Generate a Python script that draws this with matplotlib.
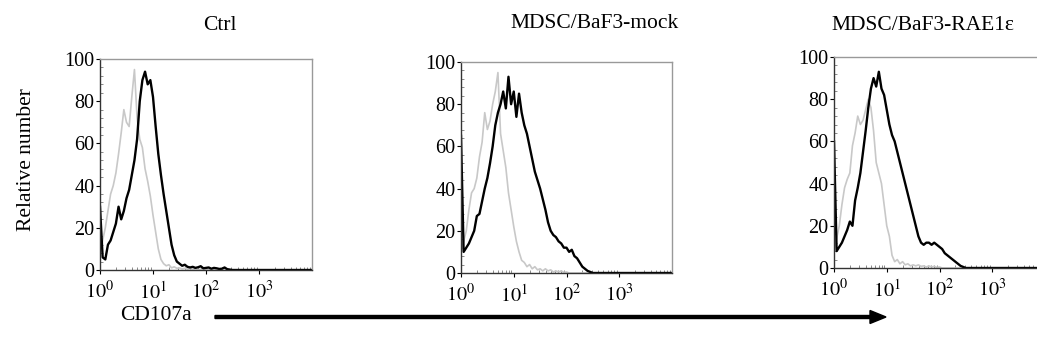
import matplotlib
matplotlib.use("Agg")
import matplotlib.pyplot as plt
from matplotlib.ticker import FixedLocator, MultipleLocator

plt.rcParams["font.family"] = ["Liberation Serif", "DejaVu Serif"]
plt.rcParams["mathtext.fontset"] = "stix"

# fluorescence channel exponents (log10 of CD107a intensity)
log_bins = [0.00, 0.05, 0.10, 0.15, 0.20, 0.25, 0.30, 0.35, 0.40, 0.45,
            0.50, 0.55, 0.60, 0.65, 0.70, 0.75, 0.80, 0.85, 0.90, 0.95,
            1.00, 1.05, 1.10, 1.15, 1.20, 1.25, 1.30, 1.35, 1.40, 1.45,
            1.50, 1.55, 1.60, 1.65, 1.70, 1.75, 1.80, 1.85, 1.90, 1.95,
            2.00, 2.05, 2.10, 2.15, 2.20, 2.25, 2.30, 2.35, 2.40, 2.45,
            2.50, 2.55, 2.60, 4.00]

titles = ["Ctrl", "MDSC/BaF3-mock", "MDSC/BaF3-RAE1\u03b5"]

ctrl_stain = [30, 6, 5, 12, 14, 18, 22, 30, 24, 28,
              34, 38, 45, 52, 62, 80, 90, 94, 88, 90,
              82, 68, 55, 45, 36, 28, 20, 12, 7, 4,
              3, 2, 2.5, 1.5, 1.2, 1.5, 1, 1.3, 1.8, 0.8,
              1, 1.2, 0.6, 1, 0.8, 0.5, 0.6, 1.2, 0.4, 0.2,
              0, 0, 0, 0]
ctrl_isotype = [8, 14, 20, 28, 36, 40, 46, 55, 65, 76,
                70, 68, 82, 95, 72, 62, 58, 48, 42, 35,
                26, 18, 10, 5, 3, 2, 2.5, 1, 1.5, 0.8,
                1, 0.5, 0.8, 0.4, 0.6, 0.3, 0.5, 0.2, 0.4, 0.2,
                0.3, 0, 0, 0, 0, 0, 0, 0, 0, 0,
                0, 0, 0, 0]

mock_stain = [65, 10, 12, 14, 17, 20, 27, 28, 34, 40,
              45, 52, 60, 70, 76, 80, 86, 78, 93, 80,
              86, 74, 85, 76, 70, 66, 60, 54, 48, 44,
              40, 35, 30, 24, 20, 18, 17, 15, 14, 12,
              12, 10, 11, 8, 7, 5, 3, 2, 1, 0.5,
              0, 0, 0, 0]
mock_isotype = [10, 15, 20, 30, 38, 40, 45, 55, 62, 76,
                68, 72, 80, 86, 95, 66, 58, 50, 38, 30,
                22, 15, 10, 6, 5, 3, 4, 2, 3, 1.5,
                2, 1, 2, 1, 1.5, 0.5, 1, 0.5, 1, 0.3,
                0.5, 0, 0, 0, 0, 0, 0, 0, 0, 0,
                0, 0, 0, 0]

rae_stain = [60, 8, 10, 12, 15, 18, 22, 20, 32, 38,
             45, 55, 65, 76, 85, 90, 86, 93, 85, 82,
             75, 68, 63, 60, 55, 50, 45, 40, 35, 30,
             25, 20, 15, 12, 11, 12, 12, 11, 12, 11,
             10, 9, 7, 6, 5, 4, 3, 2, 1, 0.5,
             0, 0, 0, 0]
rae_isotype = [8, 14, 20, 30, 38, 42, 45, 58, 64, 72,
               68, 70, 75, 80, 76, 65, 50, 45, 40, 30,
               20, 15, 6, 3, 4, 2, 3, 1.5, 2, 1,
               1.5, 1, 1.5, 0.8, 1, 0.5, 1, 0.5, 0.8, 0.3,
               0.5, 0, 0, 0, 0, 0, 0, 0, 0, 0,
               0, 0, 0, 0]

stains = [ctrl_stain, mock_stain, rae_stain]
isotypes = [ctrl_isotype, mock_isotype, rae_isotype]

W, H = 1037, 358
fig = plt.figure(figsize=(W / 100, H / 100), dpi=100)

# axes boxes in pixels: left, top, width, height
boxes = [(100, 59, 212, 211), (461, 62, 211, 211), (834, 57, 211, 211)]
title_pos = [(220, 25), (595, 23), (923, 25)]

x_vals = [10 ** b for b in log_bins]

for i, (l, t, w, h) in enumerate(boxes):
    ax = fig.add_axes([l / W, (H - t - h) / H, w / W, h / H])
    ax.plot(x_vals, isotypes[i], color="#c8c8c8", lw=1.2)
    ax.plot(x_vals, stains[i], color="black", lw=1.7)
    ax.set_xscale("log")
    ax.set_xlim(1, 1e4)
    ax.set_ylim(0, 100)
    ax.xaxis.set_major_locator(FixedLocator([1, 10, 100, 1000]))
    ax.set_xticklabels([r"$10^{0}$", r"$10^{1}$", r"$10^{2}$", r"$10^{3}$"])
    ax.xaxis.set_minor_locator(FixedLocator(
        [m * 10 ** d for d in range(4) for m in range(2, 10)]))
    ax.set_yticks([0, 20, 40, 60, 80, 100])
    ax.yaxis.set_minor_locator(MultipleLocator(4))
    ax.tick_params(axis="both", which="major", labelsize=14.5, length=3,
                   width=0.8, pad=1)
    ax.tick_params(axis="x", which="major", pad=5)
    ax.tick_params(axis="both", which="minor", direction="in", length=2.5,
                   width=0.6, color="#777777")
    for side in ["left", "bottom"]:
        ax.spines[side].set_color("#333333")
        ax.spines[side].set_linewidth(1.0)
    for side in ["top", "right"]:
        ax.spines[side].set_color("#999999")
        ax.spines[side].set_linewidth(1.0)
    tx, ty = title_pos[i]
    fig.text(tx / W, 1 - ty / H, titles[i], ha="center", va="center", fontsize=15.5)

fig.text(27 / W, 1 - 160 / H, "Relative number", rotation=90,
         ha="center", va="center", fontsize=15.5)
fig.text(120 / W, 1 - 316 / H, "CD107a", ha="left", va="center", fontsize=15.5)
fig.patches.append(matplotlib.patches.FancyArrow(
    215 / W, 1 - 317 / H, 655 / W, 0, width=3 / H, head_width=13 / H,
    head_length=16 / W, length_includes_head=False, color="black",
    transform=fig.transFigure, figure=fig))

fig.savefig("out.png", dpi=100)
